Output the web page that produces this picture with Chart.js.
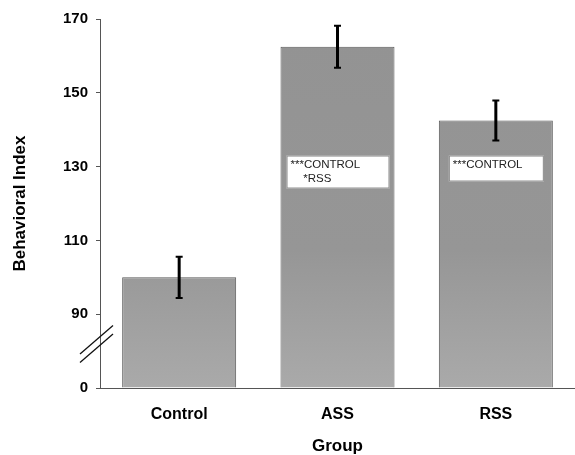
<!DOCTYPE html>
<html>
<head>
<meta charset="utf-8">
<script src="https://cdn.jsdelivr.net/npm/chart.js@4/dist/chart.umd.min.js"></script>
<style>
  html, body { margin: 0; padding: 0; background: #fff; }
  #wrap { width: 575px; height: 455px; position: relative; }
</style>
</head>
<body>
<div id="wrap"><canvas id="chart-bars"></canvas></div>
<script>
var groups = ["Control", "ASS", "RSS"];
var means = [100, 162.5, 142.5];
var errors = [5.6, 5.7, 5.4];
var notes = [[], ["***CONTROL", "    *RSS"], ["***CONTROL"]];
// axis is broken: the floor value 70 stands for 0
var axisFloor = 70;
var axisTop = 170;
var tickStep = 20;

var FONT = "'Liberation Sans', Arial, sans-serif";

// style only: box insets and heights for the notes
var noteInset = [0, 6, 10];
var noteHeight = [0, 33, 26];
var noteTopValue = 133;

var errorBars = {
  id: "errorBars",
  afterDatasetsDraw: function (chart) {
    var ctx = chart.ctx;
    var y = chart.scales.y;
    var bars = chart.getDatasetMeta(0).data;
    ctx.save();
    ctx.strokeStyle = "#000";
    bars.forEach(function (bar, i) {
      var top = y.getPixelForValue(means[i] + errors[i]);
      var bot = y.getPixelForValue(means[i] - errors[i]);
      ctx.lineWidth = 3;
      ctx.beginPath();
      ctx.moveTo(bar.x, top);
      ctx.lineTo(bar.x, bot);
      ctx.stroke();
      ctx.lineWidth = 2;
      ctx.beginPath();
      ctx.moveTo(bar.x - 3.5, top);
      ctx.lineTo(bar.x + 3.5, top);
      ctx.moveTo(bar.x - 3.5, bot);
      ctx.lineTo(bar.x + 3.5, bot);
      ctx.stroke();
    });

    // significance boxes
    ctx.font = "11.5px " + FONT;
    ctx.textBaseline = "middle";
    bars.forEach(function (bar, i) {
      if (!notes[i].length) return;
      var left = bar.x - bar.width / 2 + noteInset[i];
      var right = bar.x + bar.width / 2 - noteInset[i] + 1;
      var top = y.getPixelForValue(noteTopValue);
      ctx.fillStyle = "#fff";
      ctx.fillRect(left, top, right - left, noteHeight[i]);
      ctx.strokeStyle = "#888";
      ctx.lineWidth = 1;
      ctx.strokeRect(left + 0.5, top + 0.5, right - left - 1, noteHeight[i] - 1);
      ctx.fillStyle = "#222";
      notes[i].forEach(function (t, k) {
        ctx.fillText(t, left + 4, top + 9 + k * 14);
      });
    });

    // axis break marks
    var x0 = chart.chartArea.left;
    var yc = y.getPixelForValue((axisFloor + 90) / 2 + 3);
    ctx.strokeStyle = "#111";
    ctx.lineWidth = 1.3;
    [0, 8.5].forEach(function (d) {
      ctx.beginPath();
      ctx.moveTo(x0 - 20, yc + d + 14);
      ctx.lineTo(x0 + 13, yc + d - 14.5);
      ctx.stroke();
    });
    ctx.restore();
  },
};

var ctx = document.getElementById("chart-bars").getContext("2d");
var grad = ctx.createLinearGradient(0, 40, 0, 390);
grad.addColorStop(0, "#939393");
grad.addColorStop(0.6, "#969696");
grad.addColorStop(1, "#aaaaaa");

new Chart(ctx, {
  type: "bar",
  data: {
    labels: groups,
    datasets: [
      {
        label: "Behavioral Index",
        data: means,
        base: axisFloor,
        backgroundColor: grad,
        borderColor: "#5a5a5a",
        borderWidth: 1,
        borderSkipped: "start",
        categoryPercentage: 0.72,
        barPercentage: 1.0,
      },
    ],
  },
  plugins: [errorBars],
  options: {
    responsive: true,
    maintainAspectRatio: false,
    animation: false,
    layout: { padding: { top: 19, left: 0, right: 0, bottom: 0 } },
    plugins: {
      legend: { display: false },
      tooltip: { enabled: false },
    },
    scales: {
      y: {
        min: axisFloor,
        max: axisTop,
        afterFit: function (s) { s.width = 100; },
        border: { display: true, color: "#555", width: 1 },
        grid: {
          display: true,
          drawOnChartArea: false,
          drawTicks: true,
          tickLength: 4,
          color: "#555",
        },
        ticks: {
          stepSize: tickStep,
          padding: 8,
          color: "#000",
          font: { family: FONT, size: 15, weight: "bold" },
          callback: function (v) { return v === axisFloor ? "0" : v; },
        },
        title: {
          display: true,
          text: "Behavioral Index",
          color: "#000",
          padding: { top: 10, bottom: 0 },
          font: { family: FONT, size: 17, weight: "bold" },
        },
      },
      x: {
        afterFit: function (s) { s.height = 67; },
        border: { display: true, color: "#555", width: 1 },
        grid: { display: false },
        ticks: {
          padding: 9,
          color: "#000",
          font: { family: FONT, size: 16, weight: "bold" },
        },
        title: {
          display: true,
          text: "Group",
          color: "#000",
          padding: { top: 0, bottom: 0 },
          font: { family: FONT, size: 17, weight: "bold", lineHeight: 1.0 },
        },
      },
    },
  },
});
</script>
</body>
</html>
